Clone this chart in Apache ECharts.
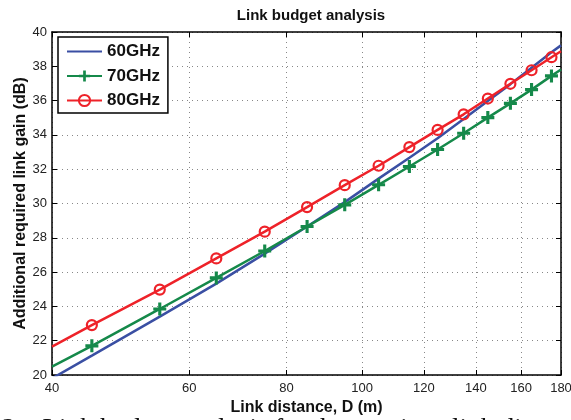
<!DOCTYPE html>
<html>
<head>
<meta charset="utf-8">
<script src="https://cdn.jsdelivr.net/npm/echarts@6/dist/echarts.min.js"></script>
<style>html,body{margin:0;padding:0;background:#fff}#c{width:571px;height:420px}</style>
</head>
<body>
<div id="c"></div>
<script>
// Link distance D (m)
const distances = [40, 45, 55, 65, 75, 85, 95, 105, 115, 125, 135, 145, 155, 165, 175, 180];
const gain60 = [19.80, 21.13, 23.40, 25.33, 27.08, 28.66, 30.08, 31.45, 32.67, 33.80, 34.93, 35.97, 36.96, 37.92, 38.82, 39.22];
const gain70 = [20.49, 21.70, 23.85, 25.66, 27.23, 28.66, 29.92, 31.09, 32.16, 33.15, 34.10, 35.01, 35.84, 36.64, 37.44, 37.81];
const gain80 = [21.65, 22.91, 24.98, 26.80, 28.36, 29.79, 31.07, 32.20, 33.29, 34.29, 35.20, 36.12, 36.98, 37.77, 38.53, 38.88];
const xTicks = [40, 60, 80, 100, 120, 140, 160, 180];
const seriesNames = ['60GHz', '70GHz', '80GHz'];

const FONT = 'Liberation Sans, Arial, Helvetica, sans-serif';
const L = Math.log;
const xTickPos = xTicks.map(L);
const PLUS = 'path://M3.8,0H6.2V3.8H10V6.2H6.2V10H3.8V6.2H0V3.8H3.8Z';

function pts(arr, withMarkers) {
  return distances.map((d, i) => {
    const o = { value: [L(d), arr[i]] };
    if (withMarkers && (d === 40 || d === 180)) o.symbol = 'none';
    return o;
  });
}

const chart = echarts.init(document.getElementById('c'), null, { renderer: 'canvas' });
const axisLineStyle = { color: '#000', width: 1.5 };
const gridLine = { show: true, lineStyle: { type: [1, 4], color: '#888', width: 1 } };

chart.setOption({
  animation: false,
  backgroundColor: '#fff',
  title: {
    text: 'Link budget analysis',
    left: 306, top: 3, textAlign: 'center',
    textStyle: { fontFamily: FONT, fontSize: 15, fontWeight: 'bold', color: '#111' }
  },
  legend: {
    orient: 'vertical', left: 58, top: 37,
    data: [
      { name: seriesNames[0], itemStyle: { opacity: 0 } },
      { name: seriesNames[1] },
      { name: seriesNames[2] }
    ],
    itemWidth: 35, itemHeight: 14, itemGap: 7.5,
    padding: [6, 8, 4, 8],
    backgroundColor: '#fff', borderColor: '#000', borderWidth: 1.5, borderRadius: 0,
    textStyle: { fontFamily: FONT, fontSize: 17, fontWeight: 'bold', color: '#111' }
  },
  grid: { left: 52, right: 10, top: 32, bottom: 45, containLabel: false, outerBoundsMode: 'none' },
  xAxis: [{
    type: 'value', min: L(40), max: L(180), position: 'bottom',
    name: 'Link distance, D (m)', nameLocation: 'middle', nameGap: 8,
    nameTextStyle: { fontFamily: FONT, fontSize: 16, fontWeight: 'bold', color: '#111', verticalAlign: 'top' },
    axisLine: { show: true, onZero: false, lineStyle: axisLineStyle },
    axisTick: { show: true, inside: true, length: 5, customValues: xTickPos, lineStyle: { color: '#000' } },
    axisLabel: { customValues: xTickPos, margin: 7, fontFamily: FONT, fontSize: 13, color: '#222',
      formatter: v => String(Math.round(Math.exp(v))) },
    splitLine: gridLine
  }, {
    type: 'value', min: L(40), max: L(180), position: 'top',
    axisLine: { show: true, onZero: false, lineStyle: axisLineStyle },
    axisTick: { show: true, inside: true, length: 5, customValues: xTickPos, lineStyle: { color: '#000' } },
    axisLabel: { show: false },
    splitLine: { show: false }
  }],
  yAxis: [{
    type: 'value', min: 20, max: 40, interval: 2, position: 'left',
    name: 'Additional required link gain (dB)', nameLocation: 'middle', nameGap: 23,
    nameMoveOverlap: false,
    nameTextStyle: { fontFamily: FONT, fontSize: 16, fontWeight: 'bold', color: '#111' },
    axisLine: { show: true, onZero: false, lineStyle: axisLineStyle },
    axisTick: { show: true, inside: true, length: 5, lineStyle: { color: '#000' } },
    axisLabel: { margin: 5, fontFamily: FONT, fontSize: 13, color: '#222' },
    splitLine: gridLine
  }, {
    type: 'value', min: 20, max: 40, interval: 2, position: 'right',
    axisLine: { show: true, onZero: false, lineStyle: axisLineStyle },
    axisTick: { show: true, inside: true, length: 5, lineStyle: { color: '#000' } },
    axisLabel: { show: false },
    splitLine: { show: false }
  }],
  series: [{
    name: seriesNames[0], type: 'line', data: pts(gain60, false),
    symbol: 'none', lineStyle: { color: '#3A4FA3', width: 2.5 }, itemStyle: { color: '#3A4FA3' }
  }, {
    name: seriesNames[1], type: 'line', data: pts(gain70, true),
    symbol: PLUS, symbolSize: 13, showAllSymbol: true,
    lineStyle: { color: '#15894A', width: 2.5 }, itemStyle: { color: '#15894A' }
  }, {
    name: seriesNames[2], type: 'line', data: pts(gain80, true),
    symbol: 'circle', symbolSize: 10, showAllSymbol: true,
    lineStyle: { color: '#EE2229', width: 2.5 },
    itemStyle: { color: 'rgba(255,255,255,0)', borderColor: '#EE2229', borderWidth: 2.2 }
  }],
  graphic: [{
    type: 'text', left: 2, top: 416,
    style: { text: '2.   Link budget analysis for the   various link distances',
      font: '27px "Liberation Serif", "Times New Roman", serif', fill: '#111' }
  }]
});
</script>
</body>
</html>
